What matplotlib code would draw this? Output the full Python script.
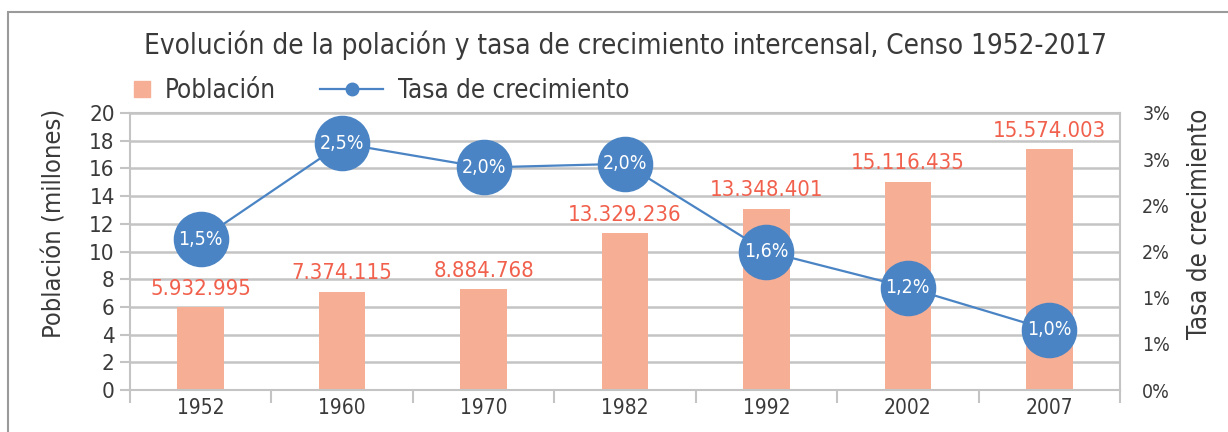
import numpy as np
import matplotlib.pyplot as plt
from matplotlib.patches import Rectangle
from matplotlib.lines import Line2D

plt.rcParams['font.family'] = ['DejaVu Sans']
plt.rcParams['font.stretch'] = 'condensed'

## Data
years = ['1952', '1960', '1970', '1982', '1992', '2002', '2007']
# bar heights as drawn (millones)
poblacion = [6.0, 7.1, 7.3, 11.3, 13.1, 15.05, 17.4]
poblacion_labels = ['5.932.995', '7.374.115', '8.884.768', '13.329.236',
                    '13.348.401', '15.116.435', '15.574.003']
# growth rate as drawn (% on right axis)
tasa = [1.63, 2.67, 2.41, 2.45, 1.50, 1.11, 0.65]
tasa_labels = ['1,5%', '2,5%', '2,0%', '2,0%', '1,6%', '1,2%', '1,0%']
left_ticks = list(range(0, 21, 2))
right_ticks = [0, 0.5, 1.0, 1.5, 2.0, 2.5, 3.0]
right_tick_labels = ['0%', '1%', '1%', '2%', '2%', '3%', '3%']

bar_color = '#f6ae94'
label_red = '#f1604c'
blue = '#4a84c4'
grid_gray = '#c4c4c4'
text_gray = '#3a3a3a'

fig = plt.figure(figsize=(12.28, 4.32), dpi=100)
ax = fig.add_axes([130/1228, 1 - 390/432, 990/1228, 277/432])
x = np.arange(len(years))

ax.bar(x, poblacion, width=0.33, color=bar_color, zorder=2)
for xi, h, lab in zip(x, poblacion, poblacion_labels):
    ax.text(xi, h + 0.6, lab, ha='center', va='bottom', color=label_red, fontsize=15.8)

ax.set_xlim(-0.5, len(years) - 0.5)
ax.set_ylim(0, 20)
ax.set_yticks(left_ticks)
ax.set_xticks(x)
ax.set_xticklabels(years)
ax.set_xticks(np.arange(-0.5, len(years), 1), minor=True)
ax.tick_params(axis='x', which='major', length=0, labelsize=15, colors=text_gray, pad=6)
ax.tick_params(axis='x', which='minor', length=9, width=1.5, color=grid_gray)
ax.tick_params(axis='y', length=7, width=1.5, color=grid_gray, labelsize=16, labelcolor=text_gray, pad=4)
ax.grid(axis='y', color=grid_gray, lw=1.8, zorder=0)
ax.set_axisbelow(True)
for s in ax.spines.values():
    s.set_color(grid_gray)
    s.set_linewidth(1.5)
ax.set_ylabel('Población (millones)', fontsize=18.3, color=text_gray)
ax.yaxis.set_label_coords(-0.064, 0.6)

ax2 = ax.twinx()
ax2.plot(x, tasa, color=blue, lw=1.6, marker='o', markersize=39, markerfacecolor=blue,
         markeredgecolor=blue, zorder=3)
for xi, t, lab in zip(x, tasa, tasa_labels):
    ax2.text(xi, t, lab, ha='center', va='center', color='white', fontsize=14, zorder=4)
ax2.set_ylim(0, 3)
ax2.set_yticks(right_ticks)
ax2.set_yticklabels(right_tick_labels)
ax2.tick_params(axis='y', length=0, labelsize=14, labelcolor=text_gray, pad=16)
for s in ax2.spines.values():
    s.set_visible(False)
ax2.set_ylabel('Tasa de crecimiento', fontsize=18.5, color=text_gray, rotation=90)
ax2.yaxis.set_label_coords(1.068, 0.6)

fig.text(625/1228, 0.895, 'Evolución de la polación y tasa de crecimiento intercensal, Censo 1952-2017',
         ha='center', va='center', fontsize=20, color=text_gray)

# legend: two pieces so each handle keeps its own length
h1 = Line2D([], [], linestyle='none', marker='s', markersize=11.5, color=bar_color)
h2 = Line2D([], [], color=blue, lw=1.6, marker='o', markersize=9)
leg1 = fig.legend([h1], ['Población'], loc='center left',
                  bbox_to_anchor=(129/1228, 1 - 91/432), frameon=False, fontsize=18.6,
                  handlelength=1.0, handletextpad=0.4, borderaxespad=0, borderpad=0,
                  labelcolor=text_gray)
leg2 = fig.legend([h2], ['Tasa de crecimiento'], loc='center left',
                  bbox_to_anchor=(320/1228, 1 - 91/432), frameon=False, fontsize=18.6,
                  handlelength=2.44, handletextpad=0.58, borderaxespad=0, borderpad=0,
                  labelcolor=text_gray)

# outer frame
fig.patches.append(Rectangle((8/1228, -0.1), 1.1, 1 - 12/432 + 0.1, transform=fig.transFigure,
                             fill=False, edgecolor='#9a9a9a', lw=1.5))

fig.savefig('out.png', dpi=100)
